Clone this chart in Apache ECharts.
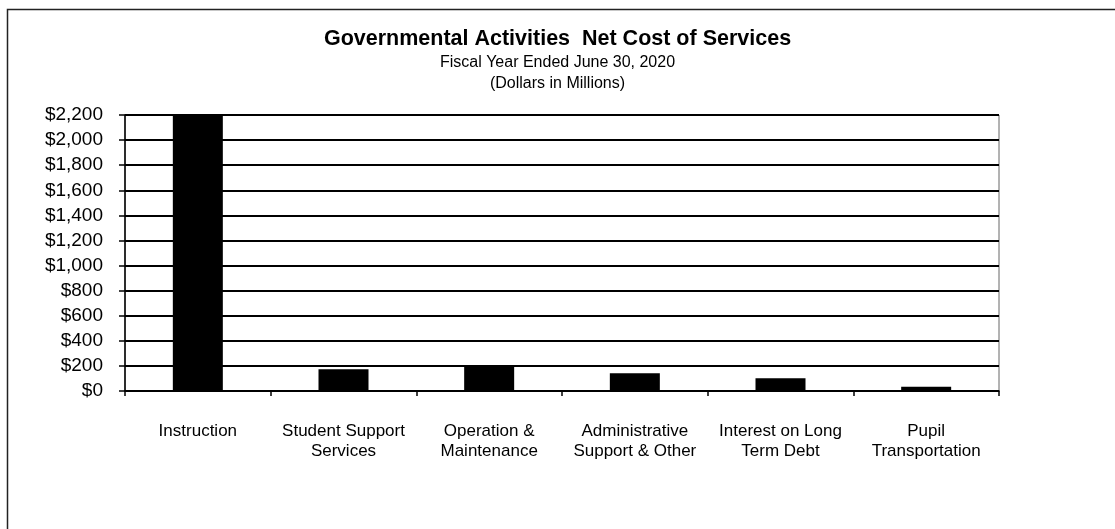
<!DOCTYPE html>
<html>
<head>
<meta charset="utf-8">
<script src="https://cdn.jsdelivr.net/npm/echarts@6/dist/echarts.min.js"></script>
<style>
html,body{margin:0;padding:0;background:#fff;}
#chart{width:1115px;height:529px;}
</style>
</head>
<body>
<div id="chart"></div>
<script>
const categories = [
  "Instruction",
  "Student Support\nServices",
  "Operation &\nMaintenance",
  "Administrative\nSupport & Other",
  "Interest on Long\nTerm Debt",
  "Pupil\nTransportation"
];
const netCost = [2200, 173, 205, 141, 101, 34];
const yTicks = [0, 200, 400, 600, 800, 1000, 1200, 1400, 1600, 1800, 2000, 2200];

const FONT = "'Liberation Sans', Arial, sans-serif";
const chart = echarts.init(document.getElementById('chart'));
chart.setOption({
  animation: false,
  backgroundColor: '#fff',
  title: [
    {text: 'Governmental Activities  Net Cost of Services', left: 'center', top: 23,
     textStyle: {fontFamily: FONT, fontSize: 21.5, fontWeight: 'bold', color: '#000'}},
    {text: 'Fiscal Year Ended June 30, 2020', left: 'center', top: 50,
     textStyle: {fontFamily: FONT, fontSize: 16, fontWeight: 'normal', color: '#000'}},
    {text: '(Dollars in Millions)', left: 'center', top: 71,
     textStyle: {fontFamily: FONT, fontSize: 16, fontWeight: 'normal', color: '#000'}}
  ],
  graphic: [{
    type: 'rect', shape: {x: 7.5, y: 9.5, width: 1130, height: 540},
    style: {fill: 'none', stroke: '#222', lineWidth: 1.5}, silent: true
  }],
  grid: {left: 125, right: 116, top: 115, bottom: 138, show: true, borderColor: '#666', borderWidth: 1},
  xAxis: {
    type: 'category', data: categories,
    axisLine: {lineStyle: {color: '#000', width: 1.5}},
    axisTick: {show: true, alignWithLabel: false, length: 5, lineStyle: {color: '#000', width: 1.5}},
    axisLabel: {fontFamily: FONT, fontSize: 17, color: '#000', margin: 30, lineHeight: 20, interval: 0}
  },
  yAxis: {
    type: 'value', min: yTicks[0], max: yTicks[yTicks.length - 1], interval: 200,
    axisLine: {show: true, lineStyle: {color: '#000', width: 1.5}},
    axisTick: {show: true, length: 6, inside: false, lineStyle: {color: '#000', width: 1.5}},
    splitLine: {lineStyle: {color: '#000', width: 2}},
    axisLabel: {fontFamily: FONT, fontSize: 19, color: '#000', margin: 22,
      formatter: v => '$' + v.toLocaleString('en-US')}
  },
  series: [{
    type: 'bar', data: netCost, barWidth: 50,
    itemStyle: {color: '#000'}
  }]
});
</script>
</body>
</html>
